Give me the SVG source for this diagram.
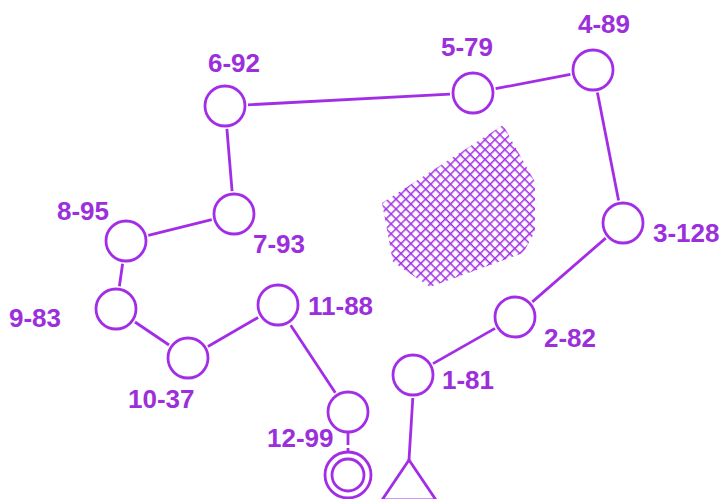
<svg xmlns="http://www.w3.org/2000/svg" width="723" height="499" viewBox="0 0 723 499">
<style>
.n{fill:none;stroke:#a32de6;stroke-width:2.8}
.e{stroke:#a32de6;stroke-width:2.8;fill:none}
.t{font-family:"Liberation Sans",Arial,sans-serif;font-weight:bold;font-size:26px;fill:#9c2fdc}
</style>
<defs>
<pattern id="hatch" patternUnits="userSpaceOnUse" width="7" height="7" patternTransform="rotate(45)">
<path d="M0 0H7M0 0V7" stroke="#a32de6" stroke-width="3"/>
</pattern>
</defs>
<rect width="723" height="499" fill="#ffffff"/>
<polygon id="hatched-area" points="503,125 535,182 535,232 523,253 430,287 393,262 382,203" fill="url(#hatch)"/>
<g id="connectors">
<line class="e" x1="248" y1="104.8" x2="450" y2="94.2"/>
<line class="e" x1="495.6" y1="88.7" x2="570.4" y2="74.3"/>
<line class="e" x1="597.4" y1="92.6" x2="618.6" y2="200.4"/>
<line class="e" x1="605.7" y1="238.1" x2="532.3" y2="301.9"/>
<line class="e" x1="495" y1="328.4" x2="433" y2="363.6"/>
<line class="e" x1="412.8" y1="398" x2="409" y2="460"/>
<line class="e" x1="226.9" y1="128.9" x2="232.1" y2="191.1"/>
<line class="e" x1="211.7" y1="219.6" x2="148.3" y2="235.4"/>
<line class="e" x1="122.6" y1="263.8" x2="119.4" y2="286.2"/>
<line class="e" x1="135" y1="322" x2="169" y2="345"/>
<line class="e" x1="207.9" y1="346.5" x2="258.1" y2="317.5"/>
<line class="e" x1="290.7" y1="325.2" x2="335.3" y2="392.8"/>
<line class="e" x1="348" y1="433" x2="348" y2="452" stroke-dasharray="12,3"/>
</g>
<g id="node-1"><circle class="n" cx="413" cy="375" r="20"/><text class="t" x="442" y="389">1-81</text></g>
<g id="node-2"><circle class="n" cx="515" cy="317" r="20"/><text class="t" x="544" y="347">2-82</text></g>
<g id="node-3"><circle class="n" cx="623" cy="223" r="20"/><text class="t" x="653" y="242">3-128</text></g>
<g id="node-4"><circle class="n" cx="593" cy="70" r="20"/><text class="t" x="578" y="33">4-89</text></g>
<g id="node-5"><circle class="n" cx="473" cy="93" r="20"/><text class="t" x="441" y="56">5-79</text></g>
<g id="node-6"><circle class="n" cx="225" cy="106" r="20"/><text class="t" x="208" y="72">6-92</text></g>
<g id="node-7"><circle class="n" cx="234" cy="214" r="20"/><text class="t" x="253" y="253">7-93</text></g>
<g id="node-8"><circle class="n" cx="126" cy="241" r="20"/><text class="t" x="57" y="220">8-95</text></g>
<g id="node-9"><circle class="n" cx="116" cy="309" r="20"/><text class="t" x="9" y="327">9-83</text></g>
<g id="node-10"><circle class="n" cx="188" cy="358" r="20"/><text class="t" x="128" y="408">10-37</text></g>
<g id="node-11"><circle class="n" cx="278" cy="305" r="20"/><text class="t" x="308" y="315">11-88</text></g>
<g id="node-12"><circle class="n" cx="348" cy="412" r="20"/><text class="t" x="267" y="447">12-99</text></g>
<g id="terminal-double"><circle class="n" cx="348" cy="475" r="23"/><circle class="n" cx="348" cy="475" r="16"/></g>
<g id="terminal-triangle"><polygon class="n" points="409,460 382,500 436,500"/></g>
</svg>
